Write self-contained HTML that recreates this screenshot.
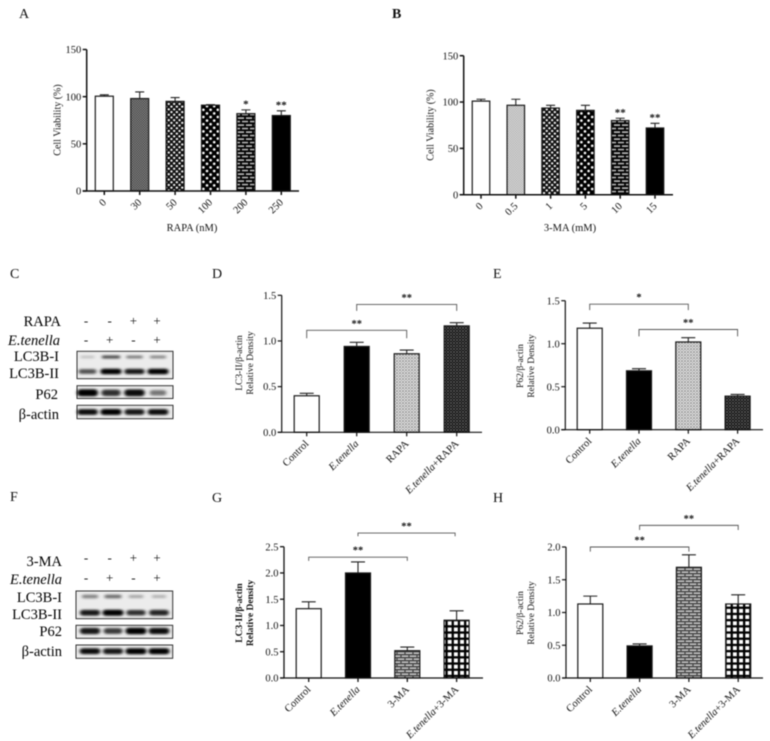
<!DOCTYPE html>
<html lang="en">
<head>
<meta charset="utf-8">
<title>Cell viability, LC3B and P62 figure</title>
<style>
html,body{margin:0;padding:0;background:#fff;width:770px;height:741px;overflow:hidden}
svg{display:block;filter:blur(0.6px)}
text{font-family:"Liberation Serif",serif;fill:#111}
.letter{font-size:14px}
.blot-label{font-size:14.5px;text-anchor:end;fill:#000}
.sign{font-size:13px;text-anchor:middle;fill:#111}
</style>
</head>
<body>
<svg id="figure" xmlns="http://www.w3.org/2000/svg" width="770" height="741" viewBox="0 0 770 741">
<defs>
<pattern id="p-fine" width="2.4" height="2.4" patternUnits="userSpaceOnUse"><rect width="2.4" height="2.4" fill="#a8a8a8"/><rect width="1.2" height="1.2" fill="#222"/><rect x="1.2" y="1.2" width="1.2" height="1.2" fill="#222"/></pattern>
<pattern id="p-light" width="2.4" height="2.4" patternUnits="userSpaceOnUse"><rect width="2.4" height="2.4" fill="#e2e2e2"/><rect width="1.2" height="1.2" fill="#a8a8a8"/><rect x="1.2" y="1.2" width="1.2" height="1.2" fill="#a8a8a8"/></pattern>
<pattern id="p-check" width="5.4" height="5.4" patternUnits="userSpaceOnUse"><rect width="5.4" height="5.4" fill="#111"/><circle cx="1.35" cy="1.35" r="1.15" fill="#fff"/><circle cx="4.05" cy="4.05" r="1.15" fill="#fff"/></pattern>
<pattern id="p-dots" width="7.2" height="7.2" patternUnits="userSpaceOnUse"><rect width="7.2" height="7.2" fill="#000"/><circle cx="1.8" cy="1.8" r="1.3" fill="#fff"/><circle cx="5.4" cy="5.4" r="1.3" fill="#fff"/></pattern>
<pattern id="p-brick" width="8" height="7" patternUnits="userSpaceOnUse"><rect width="8" height="7" fill="#b4b4b4"/><path d="M0 .8H8M0 4.3H8M1 .8V4.3M5 4.3V7" stroke="#000" stroke-width="1.8"/></pattern>
<pattern id="p-brick-light" width="8" height="6" patternUnits="userSpaceOnUse"><rect width="8" height="6" fill="#c4c4c4"/><path d="M0 .7H8M0 3.7H8M1 .7V3.7M5 3.7V6" stroke="#444" stroke-width="1.3"/></pattern>
<pattern id="p-speck" width="3" height="3" patternUnits="userSpaceOnUse"><rect width="3" height="3" fill="#dedede"/><circle cx="1" cy="1" r=".8" fill="#777"/><circle cx="2.5" cy="2.5" r=".6" fill="#999"/></pattern>
<pattern id="p-dark" width="3" height="3" patternUnits="userSpaceOnUse"><rect width="3" height="3" fill="#1c1c1c"/><circle cx="1" cy="1" r=".65" fill="#888"/><circle cx="2.5" cy="2.5" r=".5" fill="#666"/></pattern>
<pattern id="p-grid" width="6.2" height="6.2" patternUnits="userSpaceOnUse"><rect width="6.2" height="6.2" fill="#000"/><rect x="1.3" y="1.3" width="3.9" height="3.9" fill="#fff"/></pattern>
<filter id="band-blur" x="-40%" y="-150%" width="180%" height="400%"><feGaussianBlur stdDeviation="1.7 1.1"/></filter>
</defs>

<rect width="770" height="741" fill="#fff"/>

<text class="letter" x="19" y="18">A</text>
<text class="letter" x="392" y="18" style="font-weight:bold">B</text>
<text class="letter" x="10" y="278">C</text>
<text class="letter" x="212" y="278">D</text>
<text class="letter" x="493" y="278">E</text>
<text class="letter" x="10" y="501">F</text>
<text class="letter" x="212" y="502">G</text>
<text class="letter" x="493" y="502">H</text>

<g id="blot-c-labels">
<text class="blot-label" x="61" y="326">RAPA</text>
<text class="blot-label" x="60" y="345" style="font-style:italic">E.tenella</text>
<text class="blot-label" x="59" y="361">LC3B-I</text>
<text class="blot-label" x="59" y="378">LC3B-II</text>
<text class="blot-label" x="58" y="399">P62</text>
<text class="blot-label" x="59" y="419">β-actin</text>
</g>
<g id="blot-f-labels">
<text class="blot-label" x="62" y="566">3-MA</text>
<text class="blot-label" x="62" y="584" style="font-style:italic">E.tenella</text>
<text class="blot-label" x="62" y="602">LC3B-I</text>
<text class="blot-label" x="62" y="619">LC3B-II</text>
<text class="blot-label" x="62" y="636">P62</text>
<text class="blot-label" x="62" y="656">β-actin</text>
</g>
</svg>

<script>
// Panel A
const aCategories = ['0','30','50','100','200','250'];
const aValues = [100.5,98,95,91,82,80];
const aErrorTops = [102,105,99,91.5,86,85];
const aStars = ['','','','','*','**'];
const aTicks = ['0','50','100','150'];
const aFills = ['#fff','url(#p-fine)','url(#p-check)','url(#p-dots)','url(#p-brick)','#000'];
// Panel B
const bCategories = ['0','0.5','1','5','10','15'];
const bValues = [101,96.5,93.5,91,80,72];
const bErrorTops = [103,103,96.5,96.5,82.5,77];
const bStars = ['','','','','**','**'];
const bTicks = ['0','50','100','150'];
const bFills = ['#fff','url(#p-light)','url(#p-check)','url(#p-dots)','url(#p-brick)','#000'];
// Panel D
const dCategories = ['Control','E.tenella','RAPA','E.tenella+RAPA'];
const dValues = [0.40,0.94,0.86,1.165];
const dErrorTops = [0.427,0.985,0.90,1.20];
const dTicks = ['0.0','0.5','1.0','1.5'];
const dFills = ['#fff','#000','url(#p-speck)','url(#p-dark)'];
const dBrackets = [[1,3,1.40,1.33,'**'],[0,2,1.117,1.03,'**']];
// Panel E
const eCategories = ['Control','E.tenella','RAPA','E.tenella+RAPA'];
const eValues = [1.18,0.685,1.02,0.39];
const eErrorTops = [1.24,0.71,1.07,0.41];
const eTicks = ['0.0','0.5','1.0','1.5'];
const eFills = ['#fff','#000','url(#p-speck)','url(#p-dark)'];
const eBrackets = [[0,2,1.46,1.39,'*'],[1,3,1.165,1.085,'**']];
// Panel G
const gCategories = ['Control','E.tenella','3-MA','E.tenella+3-MA'];
const gValues = [1.32,2.0,0.52,1.10];
const gErrorTops = [1.45,2.21,0.59,1.28];
const gTicks = ['0.0','0.5','1.0','1.5','2.0','2.5'];
const gFills = ['#fff','#000','url(#p-brick-light)','url(#p-grid)'];
const gBrackets = [[1,2.97,2.76,2.70,'**'],[0,2,2.30,2.23,'**']];
// Panel H
const hCategories = ['Control','E.tenella','3-MA','E.tenella+3-MA'];
const hValues = [1.13,0.49,1.69,1.13];
const hErrorTops = [1.25,0.52,1.88,1.27];
const hTicks = ['0.0','0.5','1.0','1.5','2.0'];
const hFills = ['#fff','#000','url(#p-brick-light)','url(#p-grid)'];
const hBrackets = [[1,3,2.33,2.26,'**'],[0,2,2.0,1.93,'**']];
// Blots: band intensities per lane
const cTreatmentA = ['-','-','+','+'];
const cTreatmentB = ['-','+','-','+'];
const cLc3i = [0.2,0.7,0.5,0.45];
const cLc3ii = [0.65,1,0.9,1];
const cP62 = [1,0.8,0.95,0.5];
const cActin = [0.95,1,0.9,0.95];
const fTreatmentA = ['-','-','+','+'];
const fTreatmentB = ['-','+','-','+'];
const fLc3i = [0.45,0.55,0.3,0.25];
const fLc3ii = [0.9,1,0.8,0.85];
const fP62 = [0.9,0.75,1,0.95];
const fActin = [0.95,0.9,1,1];

const NS = 'http://www.w3.org/2000/svg';
const root = document.getElementById('figure');

function mk(tag, attrs, parent, txt) {
  const el = document.createElementNS(NS, tag);
  for (const k in attrs) el.setAttribute(k, attrs[k]);
  if (txt !== undefined) el.textContent = txt;
  parent.appendChild(el);
  return el;
}

function drawChart(c) {
  const g = mk('g', {}, root);
  
  
  const yMax = parseFloat(c.ticks[c.ticks.length - 1]);
  const yScale = v => c.y0 - (v / yMax) * (c.y0 - c.yTop);
  const xScale = i => c.xFirst + i * c.step;

  c.values.forEach((v, i) => {
    const cx = xScale(i);
    const err = mk('path', {d: 'M' + cx + ' ' + yScale(v) + 'V' + yScale(c.errs[i]) + 'M' + (cx - c.cap) + ' ' + yScale(c.errs[i]) + 'H' + (cx + c.cap), stroke: '#222', 'stroke-width': 1.1, fill: 'none'}, g);
    
    
    const bar = mk('rect', {x: cx - c.barW / 2, y: yScale(v), width: c.barW, height: c.y0 - yScale(v), fill: c.fills[i], stroke: '#1a1a1a', 'stroke-width': 1.2}, g);
    
    
    if (c.stars && c.stars[i]) {
      const star = mk('text', {x: cx, y: yScale(c.errs[i]) - 2.5, 'text-anchor': 'middle', 'font-size': 11, 'font-weight': 'bold'}, g, c.stars[i]);
      
      
    }
  });

  const yAxis = mk('path', {d: 'M' + c.xAxis + ' ' + c.yTop + 'V' + c.y0, stroke: '#111', 'stroke-width': c.axisW, fill: 'none'}, g);
  
  
  const xAxis = mk('path', {d: 'M' + (c.xAxis - 4) + ' ' + c.y0 + 'H' + c.xEnd, stroke: '#111', 'stroke-width': c.axisW, fill: 'none'}, g);
  
  

  c.ticks.forEach(t => {
    const y = yScale(parseFloat(t));
    const tick = mk('path', {d: 'M' + (c.xAxis - 4) + ' ' + y + 'H' + c.xAxis, stroke: '#111', 'stroke-width': c.axisW}, g);
    
    
    const label = mk('text', {x: c.xAxis - 5.5, y: y + 3.6, 'text-anchor': 'end', 'font-size': 10.5}, g, t);
    
    
  });

  c.categories.forEach((t, i) => {
    const cx = xScale(i);
    const tick = mk('path', {d: 'M' + cx + ' ' + c.y0 + 'v4', stroke: '#111', 'stroke-width': c.axisW}, g);
    
    
    const lx = cx + 2.5;
    const ly = c.y0 + 12;
    const label = mk('text', {x: lx, y: ly, 'text-anchor': 'end', 'font-size': 10.5, transform: 'rotate(-45 ' + lx + ' ' + ly + ')'}, g);
    
    
    if (t.indexOf('E.tenella') === 0) {
      mk('tspan', {'font-style': 'italic'}, label, 'E.tenella');
      mk('tspan', {}, label, t.slice(9));
    } else {
      label.textContent = t;
    }
  });

  c.titles.forEach((line, i) => {
    const tx = c.titleX + i * 11;
    const title = mk('text', {x: tx, y: c.titleY, 'text-anchor': 'middle', 'font-size': c.titleSize, 'font-weight': c.titleWeight || 'normal', transform: 'rotate(-90 ' + tx + ' ' + c.titleY + ')'}, g, line);
    
    
  });

  if (c.xTitle) {
    const xt = mk('text', {x: c.xTitleX, y: 231, 'text-anchor': 'middle', 'font-size': 10.5}, g, c.xTitle);
    
    
  }

  (c.brackets || []).forEach(b => {
    const x1 = xScale(b[0]);
    const x2 = xScale(b[1]);
    const yT = yScale(b[2]);
    const yD = yScale(b[3]);
    const br = mk('path', {d: 'M' + x1 + ' ' + yD + 'V' + yT + 'H' + x2 + 'V' + yD, stroke: '#555', 'stroke-width': 0.9, fill: 'none'}, g);
    
    
    const st = mk('text', {x: (x1 + x2) / 2, y: yT - 3.5, 'text-anchor': 'middle', 'font-size': 10.5, 'font-weight': 'bold'}, g, b[4]);
    
    
  });
}

drawChart({name:'chart-a', categories:aCategories, values:aValues, errs:aErrorTops, stars:aStars, ticks:aTicks, fills:aFills,
  xAxis:86.7, xEnd:299, y0:191, yTop:49.5, xFirst:104.3, step:35.4, barW:18, cap:4.5, axisW:1.5,
  titles:['Cell Viability (%)'], titleX:60.5, titleY:120, titleSize:10, xTitle:'RAPA (nM)', xTitleX:192});
drawChart({name:'chart-b', categories:bCategories, values:bValues, errs:bErrorTops, stars:bStars, ticks:bTicks, fills:bFills,
  xAxis:463.7, xEnd:673, y0:194.7, yTop:55.7, xFirst:481, step:34.8, barW:17.5, cap:4.5, axisW:1.5,
  titles:['Cell Viability (%)'], titleX:433.5, titleY:125, titleSize:10, xTitle:'3-MA (mM)', xTitleX:570});
drawChart({name:'chart-d', categories:dCategories, values:dValues, errs:dErrorTops, ticks:dTicks, fills:dFills, brackets:dBrackets,
  xAxis:281.7, xEnd:482, y0:432.3, yTop:295.3, xFirst:306.7, step:50, barW:25, cap:7, axisW:1.2,
  titles:['LC3-II/β-actin','Relative Density'], titleX:242, titleY:363, titleSize:9.5});
drawChart({name:'chart-e', categories:eCategories, values:eValues, errs:eErrorTops, ticks:eTicks, fills:eFills, brackets:eBrackets,
  xAxis:565.3, xEnd:763, y0:429.7, yTop:300.7, xFirst:589.7, step:49.3, barW:25, cap:7, axisW:1.2,
  titles:['P62/β-actin','Relative Density'], titleX:523, titleY:366, titleSize:9.5});
drawChart({name:'chart-g', categories:gCategories, values:gValues, errs:gErrorTops, ticks:gTicks, fills:gFills, brackets:gBrackets,
  xAxis:284, xEnd:483, y0:678, yTop:546.7, xFirst:308.7, step:49.3, barW:25, cap:7, axisW:1.3,
  titles:['LC3-II/β-actin','Relative Density'], titleX:242, titleY:613, titleSize:9.5, titleWeight:'bold'});
drawChart({name:'chart-h', categories:hCategories, values:hValues, errs:hErrorTops, ticks:hTicks, fills:hFills, brackets:hBrackets,
  xAxis:566, xEnd:763, y0:678, yTop:547, xFirst:590.3, step:49.3, barW:25, cap:7, axisW:1.2,
  titles:['P62/β-actin','Relative Density'], titleX:523, titleY:613, titleSize:9.5});

function drawBlot(b) {
  const g = mk('g', {}, root);
  
  
  b.treatments.forEach((row, r) => {
    row.forEach((s, i) => {
      const sign = mk('text', {class: 'sign', x: b.signX + i * b.signStep, y: b.signY[r]}, g, s);
      
      
    });
  });
  b.boxes.forEach(box => {
    const frame = mk('rect', {x: b.x, y: box.top, width: b.w, height: box.h, fill: '#ececec', stroke: '#333', 'stroke-width': 1}, g);
    
    
    box.rows.forEach(row => {
      row.data.forEach((v, i) => {
        const cx = b.laneX + i * b.laneStep;
        const w = 12 + 9 * v;
        const h = row.h * (0.55 + 0.45 * v);
        const band = mk('rect', {x: cx - w / 2, y: row.y - h / 2, width: w, height: h, rx: h / 2, fill: '#000', opacity: Math.min(1, v), filter: 'url(#band-blur)'}, g);
        
        
      });
    });
  });
}

drawBlot({name:'western-blot-c', x:77, w:96, laneX:87.5, laneStep:23.5, signX:86, signStep:23.7, signY:[325,344],
  treatments:[cTreatmentA, cTreatmentB],
  boxes:[
    {top:351.3, h:27.4, rows:[{data:cLc3i, y:357, h:3.5},{data:cLc3ii, y:371.5, h:5.5}]},
    {top:385.7, h:12.8, rows:[{data:cP62, y:392.8, h:7}]},
    {top:405.3, h:13.4, rows:[{data:cActin, y:412, h:6}]}
  ]});
drawBlot({name:'western-blot-f', x:76, w:96.7, laneX:90, laneStep:23, signX:86, signStep:23.7, signY:[562,582],
  treatments:[fTreatmentA, fTreatmentB],
  boxes:[
    {top:591, h:27.7, rows:[{data:fLc3i, y:596.5, h:4.5},{data:fLc3ii, y:612.7, h:6}]},
    {top:625.3, h:13, rows:[{data:fP62, y:631, h:6.5}]},
    {top:645, h:13.3, rows:[{data:fActin, y:651.2, h:6}]}
  ]});
</script>
</body>
</html>
